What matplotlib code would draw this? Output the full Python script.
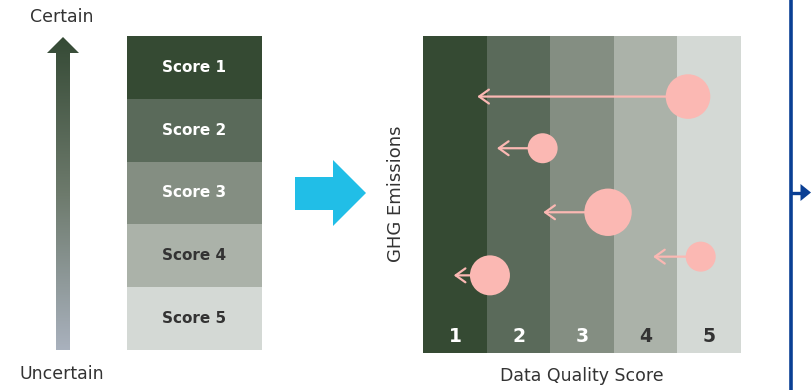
import numpy as np
import matplotlib
matplotlib.use("Agg")
import matplotlib.pyplot as plt
from matplotlib.patches import Polygon
from matplotlib.colors import LinearSegmentedColormap

# ---------------- data ----------------
scores = [1, 2, 3, 4, 5]
score_labels = ["Score 1", "Score 2", "Score 3", "Score 4", "Score 5"]
band_colors = ["#354a33", "#5a6a5a", "#848e82", "#abb2a9", "#d4d9d5"]
label_colors = ["white", "white", "white", "#333333", "#333333"]

# emission sources: current score (circle), improved score (arrow tip), emissions level, size
current_score = [4.67, 2.38, 3.41, 4.87, 1.55]
improved_score = [1.35, 1.66, 2.39, 4.12, 0.98]
emission_level = [0.808, 0.645, 0.443, 0.303, 0.244]
bubble_radius = [22.3, 15.0, 23.7, 15.0, 20.0]   # pixels

pink = "#fbb8b3"
text_dark = "#333333"

W, H, DPI = 811, 390, 100
fig = plt.figure(figsize=(W / DPI, H / DPI), dpi=DPI)
fig.patch.set_facecolor("white")

def px_axes(x0, y0, x1, y1):
    return fig.add_axes([x0 / W, (H - y1) / H, (x1 - x0) / W, (y1 - y0) / H])

# ---------------- overlay (decorations) ----------------
ov = fig.add_axes([0, 0, 1, 1])
ov.set_xlim(0, W)
ov.set_ylim(H, 0)
ov.axis("off")
ov.set_zorder(0)

# gradient arrow
grad_cmap = LinearSegmentedColormap.from_list("g", ["#354a35", "#6d7a6c", "#a9b1bd"])
grad = np.linspace(0, 1, 256).reshape(-1, 1)
arrow_pts = [(56, 350), (56, 53), (47, 53), (63, 37), (79, 53), (70, 53), (70, 350)]
arr_poly = Polygon(arrow_pts, closed=True, facecolor="none", edgecolor="none")
ov.add_patch(arr_poly)
im = ov.imshow(grad, extent=(47, 79, 350, 37), cmap=grad_cmap, aspect="auto", zorder=1)
im.set_clip_path(arr_poly)

ov.text(62, 17, "Certain", ha="center", va="center", fontsize=12.5, color=text_dark)
ov.text(62, 374, "Uncertain", ha="center", va="center", fontsize=12.5, color=text_dark)

# big cyan arrow
cyan_pts = [(295, 177), (333, 177), (333, 160), (366, 193), (333, 226), (333, 210), (295, 210)]
ov.add_patch(Polygon(cyan_pts, closed=True, facecolor="#21bee7", edgecolor="none"))

# blue line with arrow on right
ov.plot([790.5, 790.5], [0, H], color="#0a3f94", lw=2.6, solid_capstyle="butt")
ov.plot([790.5, 802], [192.5, 192.5], color="#0a3f94", lw=2.4, solid_capstyle="butt")
ov.add_patch(Polygon([(800.5, 184), (811, 192.5), (800.5, 201)], closed=True,
                     facecolor="#0a3f94", edgecolor="none"))

# ---------------- score table ----------------
tab = px_axes(127, 36, 262, 350)
tab.barh(scores, [1] * 5, height=1.0, left=0, color=band_colors)
tab.set_xlim(0, 1)
tab.set_ylim(5.5, 0.5)
tab.axis("off")
for s, lab, c in zip(scores, score_labels, label_colors):
    tab.text(0.5, s, lab, ha="center", va="center", fontsize=11,
             fontweight="bold", color=c)

# ---------------- main chart ----------------
ax = px_axes(423.3, 35.7, 740.7, 352.7)
ax.bar(scores, [1] * 5, width=1.0, bottom=0, color=band_colors, zorder=0)
ax.set_xlim(0.5, 5.5)
ax.set_ylim(0, 1)
for sp in ax.spines.values():
    sp.set_visible(False)
ax.set_xticks([])
ax.set_yticks([])

for s, c in zip(scores, label_colors):
    ax.text(s, 0.05, str(s), ha="center", va="center", fontsize=13.5,
            fontweight="bold", color=c)

for xc, xt, y in zip(current_score, improved_score, emission_level):
    ax.annotate("", xy=(xt, y), xytext=(xc, y),
                arrowprops=dict(arrowstyle="->,head_length=0.35,head_width=0.25",
                                color=pink, lw=1.6,
                                mutation_scale=20, shrinkA=0, shrinkB=0),
                zorder=2)

sizes = [(2 * r * 72 / DPI) ** 2 for r in bubble_radius]
ax.scatter(current_score, emission_level, s=sizes, color=pink, edgecolors="none", zorder=3)

ax.text(-0.087, 0.5, "GHG Emissions", transform=ax.transAxes, rotation=90,
        ha="center", va="center", fontsize=13, color=text_dark)
ax.text(0.5, -0.075, "Data Quality Score", transform=ax.transAxes,
        ha="center", va="center", fontsize=12.5, color=text_dark)

fig.savefig("out.png", dpi=DPI)
